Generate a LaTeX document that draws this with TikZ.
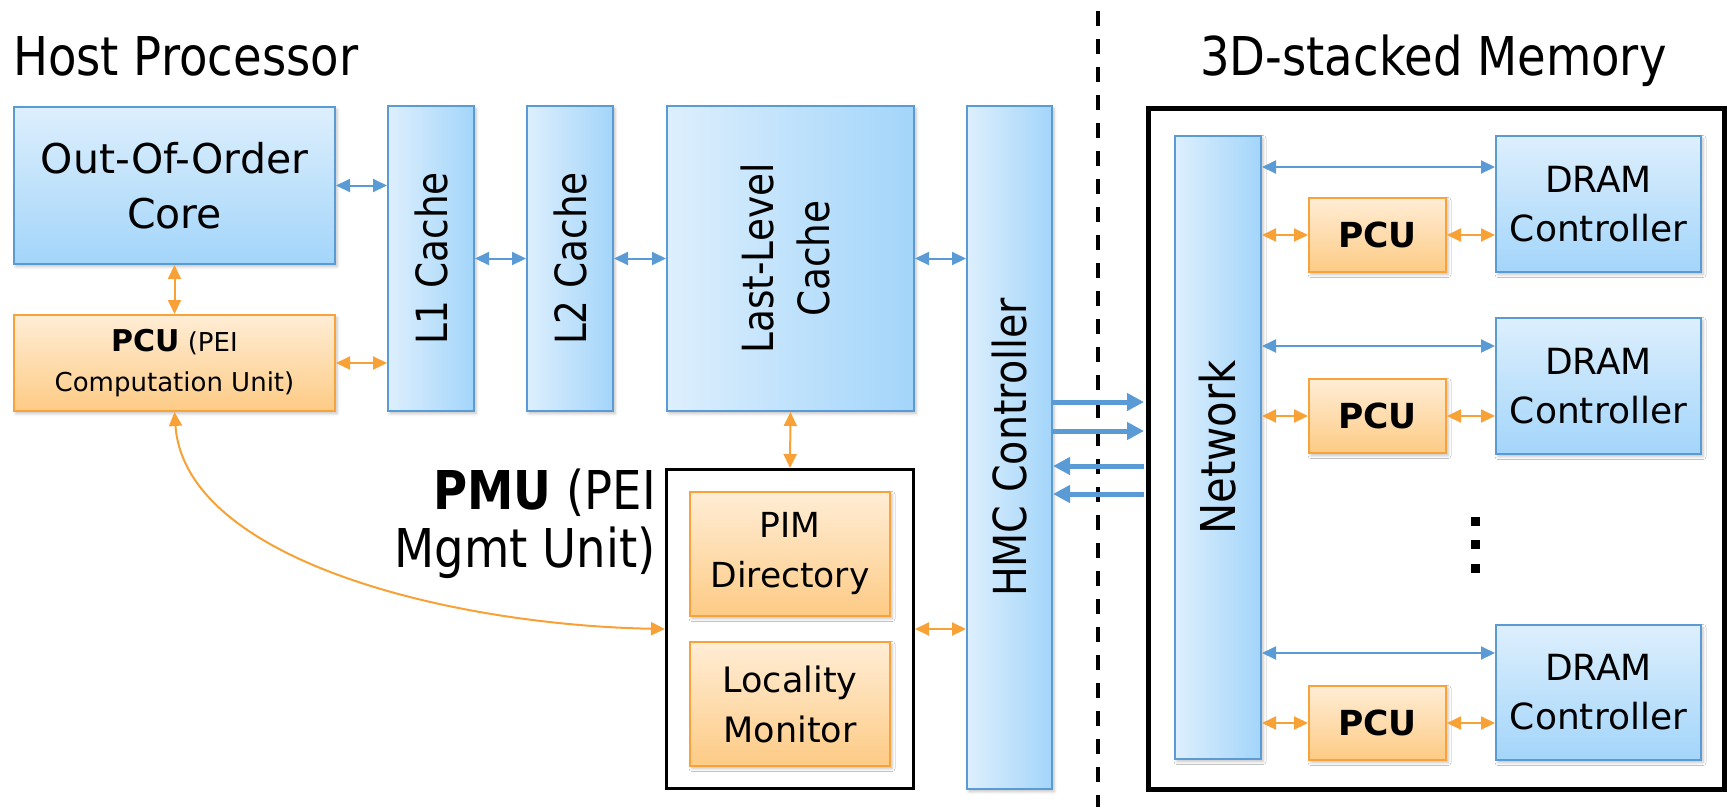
\documentclass[tikz,border=0pt]{standalone}
\usepackage{fontspec}
\setmainfont{DejaVu Sans}
\usetikzlibrary{arrows.meta,shadows.blur}

\definecolor{boxblue}{HTML}{5B9BD5}
\definecolor{bluetop}{HTML}{DDEFFD}
\definecolor{bluebot}{HTML}{A3D5FA}
\definecolor{boxorange}{HTML}{F8A23B}
\definecolor{orangetop}{HTML}{FFEDD5}
\definecolor{orangebot}{HTML}{FDCB85}
\definecolor{arrowblue}{HTML}{5B9BD5}
\definecolor{arroworange}{HTML}{F7A136}

\newcommand\fsz[2]{\fontsize{#1}{#2}\selectfont}
% slightly condensed setting for the larger labels
\newcommand\narrow[1]{\scalebox{0.87}[1]{#1}}

\tikzset{
  unitbox/.style={draw, line width=2pt, inner sep=0pt, anchor=north west,
    blur shadow={shadow xshift=2pt, shadow yshift=-2.5pt,
      shadow blur radius=3pt, shadow opacity=25}},
  blueh/.style={unitbox, draw=boxblue, top color=bluetop, bottom color=bluebot},
  bluev/.style={unitbox, draw=boxblue, left color=bluetop, right color=bluebot},
  orangeh/.style={unitbox, draw=boxorange, top color=orangetop, bottom color=orangebot},
  groupbox/.style={draw=black, fill=white, inner sep=0pt, anchor=north west},
  tipb/.tip={Triangle[length=14pt,width=13pt]},
  tipl/.tip={Triangle[length=17pt,width=17pt]},
  barrow/.style={arrowblue, line width=2pt, tipb-tipb},
  oarrow/.style={arroworange, line width=2pt, tipb-tipb},
  linkarrow/.style={arrowblue, line width=5pt, -tipl},
  divider/.style={black, line width=3.5pt, dash pattern=on 15pt off 13pt},
  title/.style={anchor=base west, inner sep=0pt, font=\fsz{53.5}{60}},
}

\begin{document}
\begin{tikzpicture}[x=1pt, y=-1pt]
\useasboundingbox (0,0) rectangle (1727,807);

% titles
\node[title] (hosttitle) at (13,75) {\narrow{Host Processor}};
\node[title] (memtitle) at (1200,75) {\narrow{3D-stacked Memory}};

% host processor side
\node[blueh, minimum width=321pt, minimum height=157pt, align=center,
      font=\fsz{41}{55}] (core) at (13,106) {Out-Of-Order\\Core};
\node[orangeh, minimum width=321pt, minimum height=96pt, align=center,
      font=\fsz{26}{40}] (hpcu) at (13,314)
      {{\fsz{30}{40}\bfseries PCU} (PEI\\Computation Unit)};
\node[bluev, minimum width=86pt, minimum height=305pt, font=\fsz{43}{50}]
      (l1) at (387,105) {\rotatebox{90}{\narrow{L1 Cache}}};
\node[bluev, minimum width=86pt, minimum height=305pt, font=\fsz{43}{50}]
      (l2) at (526,105) {\rotatebox{90}{\narrow{L2 Cache}}};
\node[bluev, minimum width=247pt, minimum height=305pt, font=\fsz{43}{56}]
      (llc) at (666,105)
      {\rotatebox{90}{\narrow{\begin{tabular}{@{}c@{}}Last-Level\\Cache\end{tabular}}}};
\node[bluev, minimum width=85pt, minimum height=683pt, font=\fsz{45.5}{50}]
      (hmc) at (966,105) {\rotatebox{90}{\narrow{HMC Controller}}};

% PEI management unit
\node[groupbox, line width=3pt, minimum width=247pt, minimum height=319pt]
      (pmu) at (665,468) {};
\node[orangeh, minimum width=200pt, minimum height=124pt, align=center,
      font=\fsz{34.5}{50}] (pimdir) at (689,491) {PIM\\Directory};
\node[orangeh, minimum width=200pt, minimum height=124pt, align=center,
      font=\fsz{35}{50}] (locmon) at (689,641) {Locality\\Monitor};
\node[anchor=east, align=right, inner sep=0pt, font=\fsz{53.5}{58}]
      (pmulabel) at (656,524) {\narrow{\textbf{PMU} (PEI}\\\narrow{Mgmt Unit)}};

% divider between host and memory
\draw[divider] (1098,11) -- (1098,807);

% 3D-stacked memory
\node[groupbox, line width=4.5pt, minimum width=576pt, minimum height=681pt]
      (mem) at (1146,106) {};
\node[bluev, minimum width=86pt, minimum height=623pt, font=\fsz{48}{50}]
      (net) at (1174,135) {\rotatebox{90}{\narrow{Network}}};

\node[blueh, minimum width=205pt, minimum height=136pt, align=center,
      font=\fsz{36}{49}] (dram1) at (1495,135) {DRAM\\Controller};
\node[blueh, minimum width=205pt, minimum height=136pt, align=center,
      font=\fsz{36}{49}] (dram2) at (1495,317) {DRAM\\Controller};
\node[blueh, minimum width=205pt, minimum height=135pt, align=center,
      font=\fsz{36}{49}] (dram3) at (1495,624) {DRAM\\Controller};

\node[orangeh, minimum width=137pt, minimum height=74pt,
      font=\fsz{34.5}{40}\bfseries] (pcu1) at (1308,197) {PCU};
\node[orangeh, minimum width=137pt, minimum height=74pt,
      font=\fsz{34.5}{40}\bfseries] (pcu2) at (1308,378) {PCU};
\node[orangeh, minimum width=137pt, minimum height=74pt,
      font=\fsz{34.5}{40}\bfseries] (pcu3) at (1308,685) {PCU};

% vertical ellipsis between the vault rows
\fill (1470.5,516.5) rectangle ++(9,9);
\fill (1470.5,539.5) rectangle ++(9,9);
\fill (1470.5,563.5) rectangle ++(9,9);

% host connections
\draw[barrow] (core.east) -- (core.east -| l1.west);
\draw[oarrow] (hpcu.east) -- (hpcu.east -| l1.west);
\draw[oarrow] (core.south) -- (hpcu.north);
\draw[barrow] (l1.east) -- (l2.west);
\draw[barrow] (l2.east) -- (llc.west);
\draw[barrow] (llc.east) -- (llc.east -| hmc.west);
\draw[oarrow] (llc.south) -- (pmu.north);
\draw[oarrow] (pmu.east) -- (pmu.east -| hmc.west);
\draw[oarrow] (hpcu.south) .. controls (185,560) and (450,625) .. (pmu.west);

% off-chip links
\coordinate (lk1) at (0,402);
\coordinate (lk2) at (0,431);
\coordinate (lk3) at (0,466);
\coordinate (lk4) at (0,494);
\draw[linkarrow] (hmc.east |- lk1) -- ([xshift=-2pt]mem.west |- lk1);
\draw[linkarrow] (hmc.east |- lk2) -- ([xshift=-2pt]mem.west |- lk2);
\draw[linkarrow] ([xshift=-2pt]mem.west |- lk3) -- (hmc.east |- lk3);
\draw[linkarrow] ([xshift=-2pt]mem.west |- lk4) -- (hmc.east |- lk4);

% vault connections
\foreach \d/\p/\off in {dram1/pcu1/32, dram2/pcu2/29, dram3/pcu3/29} {
  \draw[barrow] ([yshift=-\off pt]\d.north west -| net.east)
             -- ([yshift=-\off pt]\d.north west);
  \draw[oarrow] (\p.west -| net.east) -- (\p.west);
  \draw[oarrow] (\p.east) -- (\p.east -| \d.west);
}
\end{tikzpicture}
\end{document}
